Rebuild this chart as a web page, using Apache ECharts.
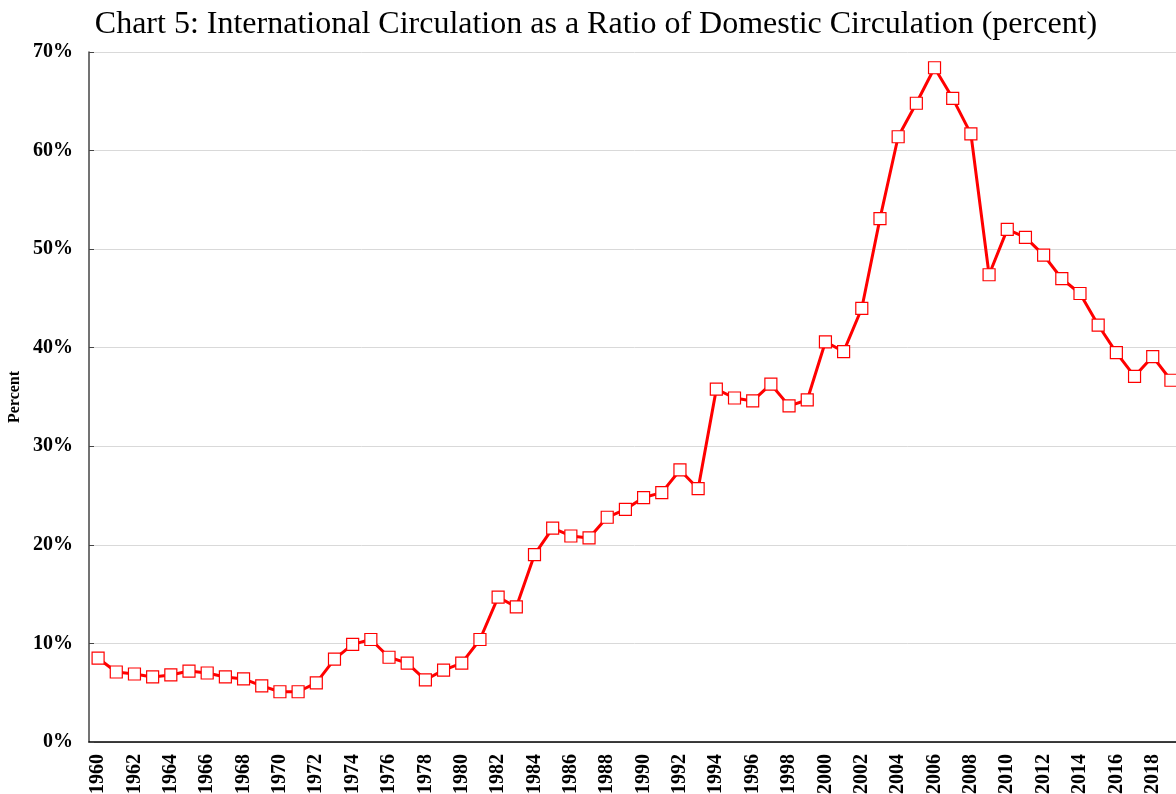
<!DOCTYPE html>
<html>
<head>
<meta charset="utf-8">
<script src="https://cdn.jsdelivr.net/npm/echarts@6/dist/echarts.min.js"></script>
<style>
  html, body { margin: 0; padding: 0; background: #fff; overflow: hidden; }
  #chart5 { width: 1180px; height: 794px; }
</style>
</head>
<body>
<div id="chart5"></div>
<script>
// years 1960 - 2019
var years = [];
for (var y = 1960; y <= 2019; y++) years.push(String(y));

// international circulation / domestic circulation, percent
var ratio1960s = [8.5, 7.1, 6.9, 6.6, 6.8, 7.2, 7.0, 6.6, 6.4, 5.7];
var ratio1970s = [5.1, 5.1, 6.0, 8.4, 9.9, 10.4, 8.6, 8.0, 6.3, 7.3];
var ratio1980s = [8.0, 10.4, 14.7, 13.7, 19.0, 21.7, 20.9, 20.7, 22.8, 23.6];
var ratio1990s = [24.8, 25.3, 27.6, 25.7, 35.8, 34.9, 34.6, 36.3, 34.1, 34.7];
var ratio2000s = [40.6, 39.6, 44.0, 53.1, 61.4, 64.8, 68.4, 65.3, 61.7, 47.4];
var ratio2010s = [52.0, 51.2, 49.4, 47.0, 45.5, 42.3, 39.5, 37.1, 39.1, 36.7];
var ratio = [].concat(ratio1960s, ratio1970s, ratio1980s, ratio1990s, ratio2000s, ratio2010s);

var yTicks = [0, 10, 20, 30, 40, 50, 60, 70];

var serif = '"Liberation Serif", "Times New Roman", serif';

var myChart = echarts.init(document.getElementById('chart5'));
var option = {
    animation: false,
    title: {
        text: 'Chart 5: International Circulation as a Ratio of Domestic Circulation (percent)',
        left: 591,
        textAlign: 'center',
        top: 4,
        textStyle: {
            fontFamily: serif,
            fontWeight: 'normal',
            fontSize: 32,
            color: '#000'
        }
    },
    grid: {
        left: 89,
        right: 0,
        top: 52,
        bottom: 52,
        outerBoundsMode: 'none'
    },
    xAxis: {
        type: 'category',
        data: years,
        boundaryGap: true,
        axisLine: { lineStyle: { color: '#000', width: 1.5 } },
        axisTick: { inside: true, length: 5, interval: 0, lineStyle: { color: '#000' } },
        axisLabel: {
            interval: 1,
            rotate: 90,
            margin: 12,
            fontFamily: serif,
            fontWeight: 'bold',
            fontSize: 20,
            color: '#000'
        },
        splitLine: { show: false }
    },
    yAxis: {
        type: 'value',
        min: yTicks[0],
        max: yTicks[yTicks.length - 1],
        interval: 10,
        name: 'Percent',
        nameLocation: 'middle',
        nameMoveOverlap: false,
        nameGap: 66,
        nameTextStyle: {
            fontFamily: serif,
            fontWeight: 'bold',
            fontSize: 16,
            color: '#000'
        },
        axisLine: { show: true, lineStyle: { color: '#444', width: 1.5 } },
        axisTick: { show: true, inside: true, length: 5, lineStyle: { color: '#444' } },
        axisLabel: {
            formatter: '{value}%',
            margin: 16,
            fontFamily: serif,
            fontWeight: 'bold',
            fontSize: 20,
            color: '#000'
        },
        splitLine: { lineStyle: { color: '#d9d9d9', width: 1 } }
    },
    series: [
        {
            name: 'Ratio',
            type: 'line',
            data: ratio,
            symbol: 'rect',
            symbolSize: 12,
            showAllSymbol: true,
            lineStyle: { color: '#ff0000', width: 3 },
            itemStyle: { color: '#fff', borderColor: '#ff0000', borderWidth: 1.2 }
        }
    ]
};
myChart.setOption(option);
</script>
</body>
</html>
